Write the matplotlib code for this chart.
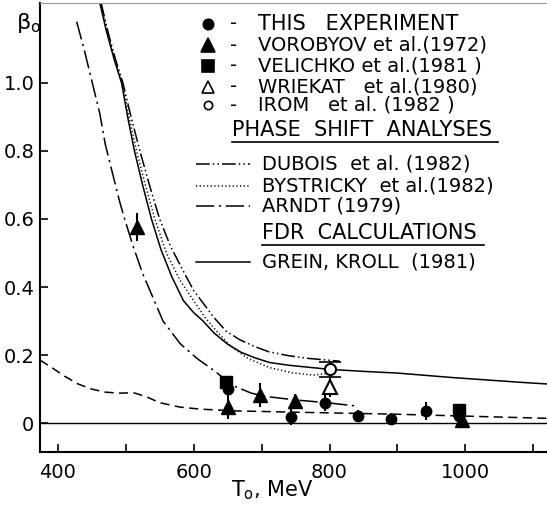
import matplotlib
matplotlib.use("Agg")
import matplotlib.pyplot as plt
from matplotlib.lines import Line2D

W, H = 547, 505

# curves (T0 in MeV, beta0)
grein_t = [462, 472, 483, 494, 503, 513, 525, 538, 552, 568, 585, 600, 614, 630, 650,
           670, 690, 712, 740, 770, 800, 850, 900, 937, 980, 1030, 1080, 1120]
grein_b = [1.235, 1.15, 1.07, 1.00, 0.90, 0.80, 0.70, 0.60, 0.51, 0.43, 0.36, 0.325, 0.30, 0.265, 0.232,
           0.208, 0.192, 0.178, 0.170, 0.164, 0.158, 0.152, 0.147, 0.141, 0.134, 0.127, 0.120, 0.115]

dubois_t = [464, 474, 485, 496, 508, 521, 535, 550, 566, 584, 600, 615, 630, 648,
            668, 690, 710, 740, 770, 815]
dubois_b = [1.235, 1.15, 1.07, 1.00, 0.90, 0.80, 0.70, 0.60, 0.52, 0.45, 0.39, 0.35, 0.31, 0.27,
            0.245, 0.225, 0.21, 0.198, 0.19, 0.182]

byst_t = [463, 473, 484, 495, 505, 516, 529, 543, 560, 580, 600, 617, 634, 655,
          680, 712, 745, 776, 800]
byst_b = [1.235, 1.15, 1.07, 1.00, 0.90, 0.80, 0.70, 0.60, 0.50, 0.42, 0.36, 0.31, 0.27, 0.225,
          0.19, 0.163, 0.148, 0.141, 0.147]

arndt_t = [428, 440, 451, 462, 470, 480, 490, 497, 511, 525, 540, 555, 580, 605,
           629, 658, 685, 707, 750, 796, 840]
arndt_b = [1.18, 1.09, 1.00, 0.91, 0.82, 0.74, 0.66, 0.61, 0.52, 0.44, 0.37, 0.30, 0.234, 0.19,
           0.156, 0.11, 0.088, 0.078, 0.068, 0.060, 0.050]

dash_t = [374, 390, 410, 430, 450, 470, 490, 512, 530, 550, 580, 610, 660, 727,
          800, 900, 990, 1120]
dash_b = [0.185, 0.165, 0.138, 0.115, 0.10, 0.091, 0.088, 0.089, 0.078, 0.060, 0.047, 0.041, 0.036, 0.033,
          0.030, 0.026, 0.021, 0.014]

# data points
this_t = [650, 744, 794, 842, 891, 942, 990]
this_b = [0.099, 0.019, 0.060, 0.021, 0.011, 0.035, 0.020]
this_e = [0.02, 0.025, 0.025, 0.018, 0.018, 0.027, 0.02]

voro_t = [517, 650, 697, 749, 995]
voro_b = [0.577, 0.046, 0.082, 0.065, 0.009]
voro_e = [0.042, 0.035, 0.035, 0.02, 0.012]

veli_t = [648, 990]
veli_b = [0.121, 0.038]
veli_e = [0.01, 0.01]

wriek_t = [800]
wriek_b = [0.107]
wriek_e = [0.03]

irom_t = [800]
irom_b = [0.158]
irom_e = [0.022]

xticks = [400, 500, 600, 700, 800, 900, 1000, 1100]
xlabels = ['400', '', '600', '', '800', '', '1000', '']
yticks = [0, 0.2, 0.4, 0.6, 0.8, 1.0]
ylabels = ['0', '0.2', '0.4', '0.6', '0.8', '1.0']

fig = plt.figure(figsize=(W / 100, H / 100), dpi=100)
ax = fig.add_axes([40 / W, 1 - 452 / H, 1 - 40 / W, (452 - 3) / H])

lw = 1.1
ax.axhline(0, color='k', lw=1.0)
ax.plot(grein_t, grein_b, '-', color='k', lw=lw)
ax.plot(dubois_t, dubois_b, color='k', lw=lw, dashes=(9, 2, 1, 2, 1, 2))
ax.plot(byst_t, byst_b, color='k', lw=lw, linestyle=(0, (0.8, 1.6)))
ax.plot(arndt_t, arndt_b, color='k', lw=lw, dashes=(12, 3, 1.5, 3))
ax.plot(dash_t, dash_b, color='k', lw=lw, dashes=(6, 3.5))

eb = dict(fmt='none', ecolor='k', elinewidth=1.5)
ax.errorbar(this_t, this_b, yerr=this_e, **eb)
ax.errorbar(voro_t, voro_b, yerr=voro_e, **eb)
ax.errorbar(veli_t, veli_b, yerr=veli_e, **eb)
ax.errorbar(wriek_t, wriek_b, yerr=wriek_e, **eb)
ax.errorbar(irom_t, irom_b, yerr=irom_e, capsize=8, capthick=1.2, **eb)

ax.plot(this_t, this_b, 'o', color='k', ms=7.5)
ax.plot(voro_t, voro_b, '^', color='k', ms=9.5)
ax.plot(veli_t, veli_b, 's', color='k', ms=8)
ax.plot(wriek_t, wriek_b, '^', mfc='white', mec='k', mew=1.5, ms=9.5)
ax.plot(irom_t, irom_b, 'o', mfc='white', mec='k', mew=1.5, ms=8)

ax.set_xlim(374, 1120)
ax.set_ylim(-0.085, 1.235)
ax.set_xticks(xticks)
ax.set_xticklabels(xlabels)
ax.set_yticks(yticks)
ax.set_yticklabels(ylabels)
ax.tick_params(direction='in', length=6, width=1.2, labelsize=14)
ax.tick_params(axis='x', pad=8)
ax.tick_params(axis='y', pad=4)
ax.spines['right'].set_visible(False)
ax.spines['top'].set_color('#999999')
for s in ('left', 'bottom'):
    ax.spines[s].set_linewidth(1.5)

fig.text(16 / W, 1 - 23 / H, r'$\mathregular{β_o}$', fontsize=16, va='center', ha='left')
fig.text(272 / W, 1 - 490 / H, r'$\mathregular{T_o}$, MeV', fontsize=15, va='center', ha='center')


def fx(px):
    return px / W


def fy(py):
    return 1 - py / H


fs = 14
mk_rows = [
    ('o', 'k', 'k', 7.5, 'THIS   EXPERIMENT', 24, 15),
    ('^', 'k', 'k', 9.5, 'VOROBYOV et al.(1972)', 45, fs),
    ('s', 'k', 'k', 8, 'VELICHKO et al.(1981 )', 66, fs),
    ('^', 'white', 'k', 8, 'WRIEKAT   et al.(1980)', 87, fs),
    ('o', 'white', 'k', 6, 'IROM   et al. (1982 )', 105, fs),
]
for m, fc, ec, ms, label, py, size in mk_rows:
    fig.add_artist(Line2D([fx(208)], [fy(py)], marker=m, mfc=fc, mec=ec, ms=ms, mew=1.2, ls='none'))
    fig.text(fx(230), fy(py), '-', fontsize=fs, va='center', ha='left')
    fig.text(fx(258), fy(py), label, fontsize=size, va='center', ha='left')

fig.text(fx(232), fy(130), 'PHASE  SHIFT  ANALYSES', fontsize=15, va='center', ha='left')
fig.add_artist(Line2D([fx(232), fx(498)], [fy(142), fy(142)], color='k', lw=1.2))
fig.text(fx(262), fy(233), 'FDR  CALCULATIONS', fontsize=15, va='center', ha='left')
fig.add_artist(Line2D([fx(262), fx(484)], [fy(245), fy(245)], color='k', lw=1.2))

ln_rows = [
    (dict(dashes=(9, 2, 1, 2, 1, 2)), 'DUBOIS  et al. (1982)', 164),
    (dict(linestyle=(0, (0.8, 1.6))), 'BYSTRICKY  et al.(1982)', 186),
    (dict(dashes=(12, 3, 1.5, 3)), 'ARNDT (1979)', 206),
    (dict(), 'GREIN, KROLL  (1981)', 262),
]
for st, label, py in ln_rows:
    fig.add_artist(Line2D([fx(196), fx(250)], [fy(py), fy(py)], color='k', lw=lw, **st))
    fig.text(fx(262), fy(py), label, fontsize=fs, va='center', ha='left')

fig.savefig('out.png', dpi=100)
